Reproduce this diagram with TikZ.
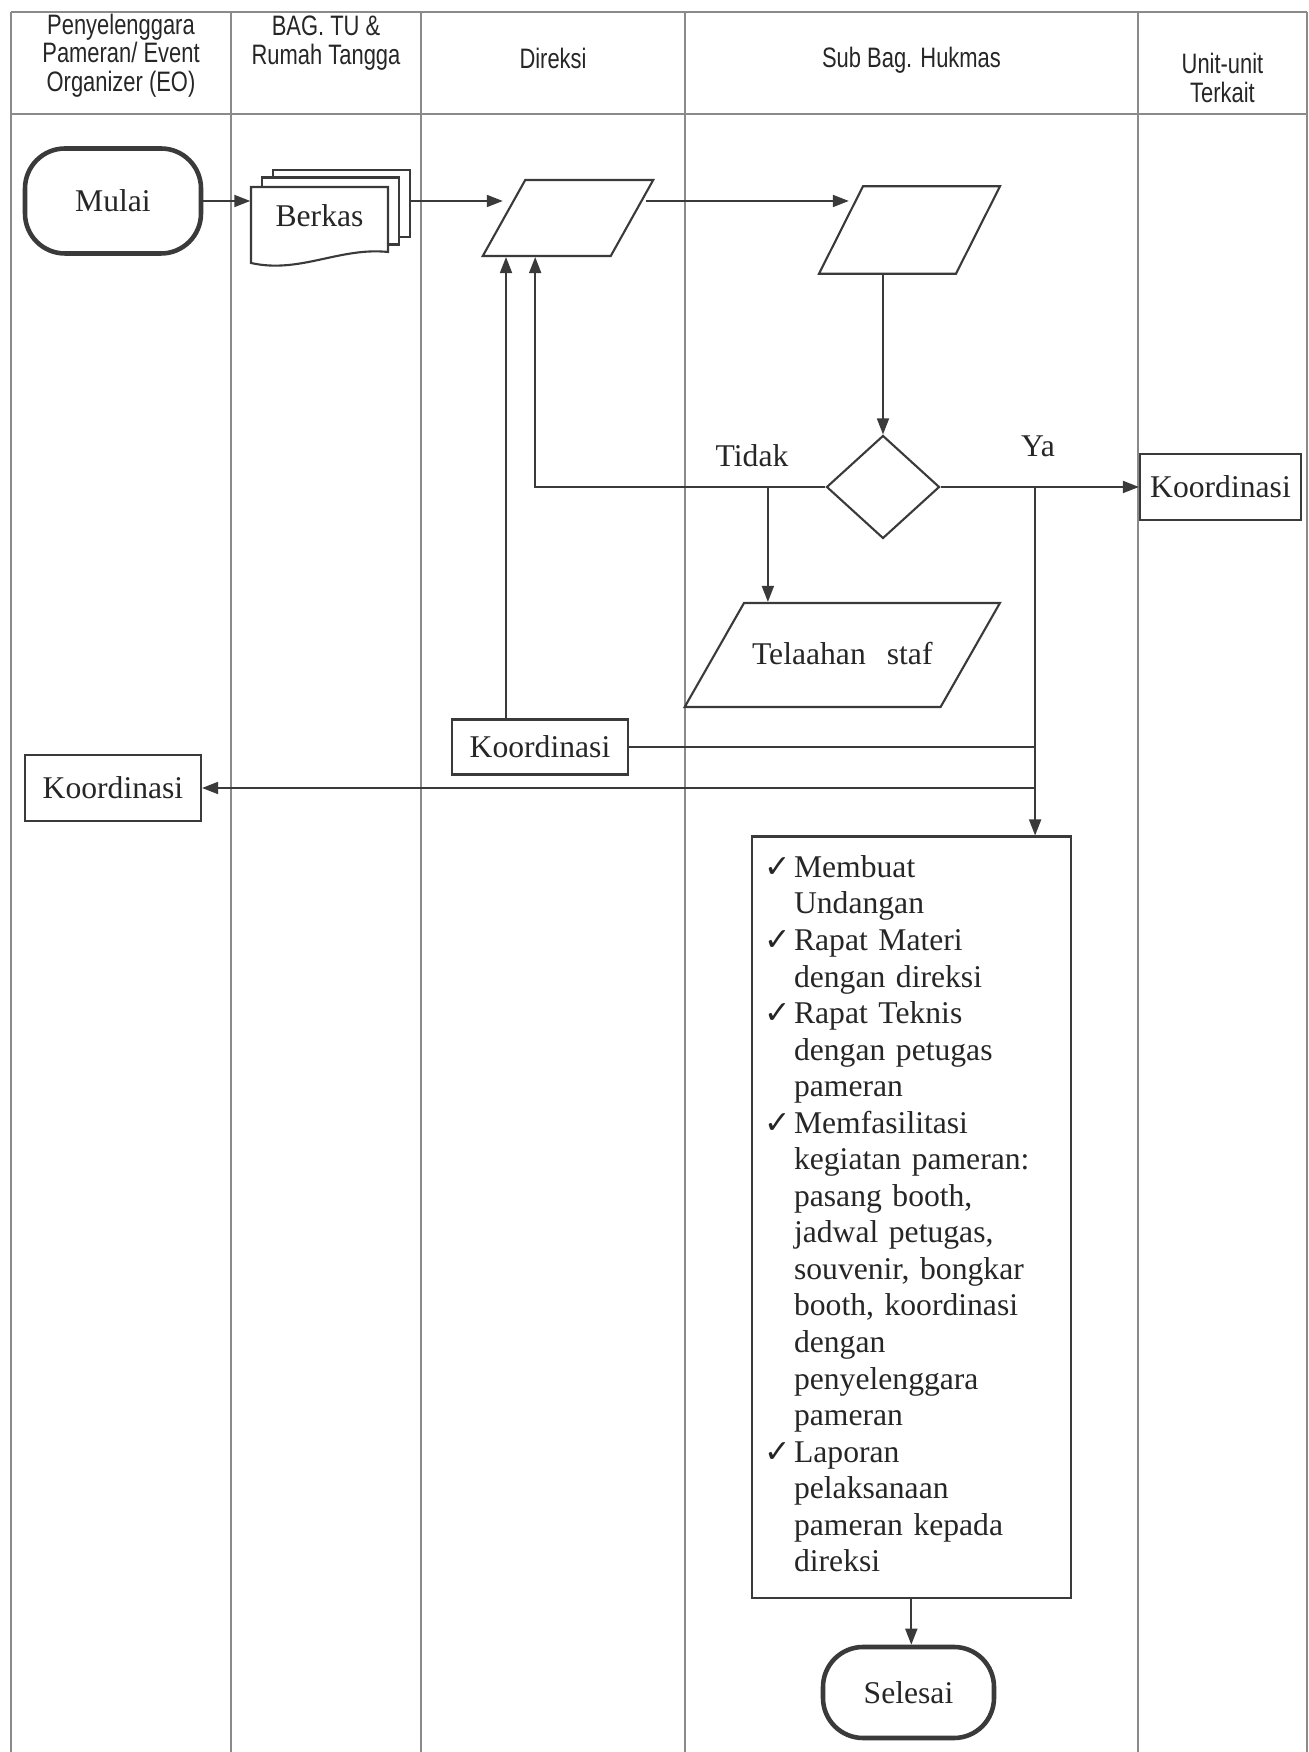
\documentclass[tikz,border=0pt]{standalone}
\usepackage{fontspec}
\setmainfont{Liberation Serif}
\newfontfamily\headfont[FakeStretch=0.78]{Liberation Sans}
\newfontfamily\symfont{DejaVu Sans}
\usetikzlibrary{shapes.geometric, calc, arrows.meta}
\definecolor{garis}{HTML}{8A8A8A}
\definecolor{tinta}{HTML}{3A3A3A}
\newcommand{\cek}{{\symfont\fontsize{9}{10}\selectfont ✓}}

\begin{document}
\begin{tikzpicture}[arr/.style={->, >={Triangle[length=1.6mm, width=1.2mm]}, draw=tinta, line width=0.5pt}, font=\fontsize{9}{10.4}\selectfont, text=black!85]
        \tikzset{kotak/.style={rectangle, draw=tinta, line width=0.6pt, minimum width=1.76cm, minimum height=0.66cm, inner sep=0pt}}
        \tikzset{jajar/.style={trapezium, draw=tinta, line width=0.6pt, inner sep=0pt}}
        \tikzset{ujung/.style={rectangle, rounded corners=0.4cm, draw=tinta, line width=1.3pt, inner sep=0pt}}
        \tikzset{judul/.style={font=\headfont\fontsize{8}{8.1}\selectfont, align=center}}
        \useasboundingbox (0, 0) rectangle (13.09, 17.52);

        % tabel
        \draw[garis, line width=0.4pt] (0.11, 17.40) -- (13.07, 17.40);
        \draw[garis, line width=0.4pt] (0.11, 16.38) -- (13.07, 16.38);
        \foreach \x in {0.11, 2.31, 4.21, 6.85, 11.38, 13.07}
            \draw[garis, line width=0.4pt] (\x, 17.40) -- (\x, 0);

        \node[judul] (h1) at (1.21, 16.965) {Penyelenggara\\Pameran/ Event\\Organizer (EO)};
        \node[judul] (h2) at (3.26, 17.09) {BAG. TU \&\\Rumah Tangga};
        \node[judul] (h3) at (5.53, 16.94) {Direksi};
        \node[judul] (h4) at (9.115, 16.92) {Sub Bag. Hukmas};
        \node[judul] (h5) at (12.225, 16.74) {Unit-unit\\Terkait};

        \node[ujung, minimum width=1.76cm, minimum height=1.05cm] (mulai) at (1.13, 15.51) {Mulai};

        % berkas
        \coordinate (bk) at (3.195, 15.36);
        \node[kotak, fill=white, minimum width=1.37cm, minimum height=0.67cm] (hal3) at (3.415, 15.485) {};
        \node[kotak, fill=white, minimum width=1.37cm, minimum height=0.67cm] (hal2) at (3.305, 15.41) {};
        \draw[draw=tinta, line width=0.6pt, fill=white] ($(bk)+(-0.685,-0.47)$) -- ($(bk)+(-0.685,0.29)$) -- ($(bk)+(0.685,0.29)$) -- ($(bk)+(0.685,-0.36)$)
            .. controls ($(bk)+(0.2,-0.31)$) and ($(bk)+(-0.2,-0.58)$) .. ($(bk)+(-0.685,-0.47)$) -- cycle;
        \node[inner sep=0pt, minimum width=1.37cm, minimum height=0.6cm] (berkas) at (bk) {Berkas};

        \node[jajar, trapezium left angle=60.8, trapezium right angle=119.2, text width=0.855cm, text height=0.76cm, text depth=0pt] (p1) at (5.68, 15.34) {};
        \node[jajar, trapezium left angle=63.3, trapezium right angle=116.7, text width=0.93cm, text height=0.875cm, text depth=0pt] (p2) at (9.095, 15.22) {};
        \node[diamond, draw=tinta, line width=0.6pt, inner sep=0pt, minimum width=1.13cm, minimum height=1.03cm] (dia) at (8.83, 12.65) {};
        \node[jajar, trapezium left angle=60.3, trapezium right angle=119.7, text width=1.966cm, align=center, text height=0.62cm, text depth=0.42cm] (p3) at (8.423, 10.97) {Telaahan\ \ staf};

        \node[kotak, minimum width=1.61cm] (koordU) at (12.205, 12.65) {Koordinasi};
        \node[kotak, minimum height=0.55cm] (koordD) at (5.40, 10.05) {Koordinasi};
        \node[kotak] (koordL) at (1.13, 9.64) {Koordinasi};

        \node[kotak, anchor=north west, text width=2.935cm, align=left, inner xsep=0.13cm, minimum height=7.615cm] (list) at (7.505, 9.165) {%
            \begin{tabular}{@{}l@{\hspace{0.3mm}}l@{}}
                \cek & Membuat\\
                     & Undangan\\
                \cek & Rapat Materi\\
                     & dengan direksi\\
                \cek & Rapat Teknis\\
                     & dengan petugas\\
                     & pameran\\
                \cek & Memfasilitasi\\
                     & kegiatan pameran:\\
                     & pasang booth,\\
                     & jadwal petugas,\\
                     & souvenir, bongkar\\
                     & booth, koordinasi\\
                     & dengan\\
                     & penyelenggara\\
                     & pameran\\
                \cek & Laporan\\
                     & pelaksanaan\\
                     & pameran kepada\\
                     & direksi
            \end{tabular}};

        \node[ujung, minimum width=1.71cm, minimum height=0.91cm] (selesai) at (9.085, 0.595) {Selesai};

        \node (tidak) at (7.52, 12.96) {Tidak};
        \node (ya) at (10.38, 13.06) {Ya};

        % alur
        \draw[arr] (mulai.east) -- (mulai.east -| berkas.west);
        \draw[arr] (mulai.east -| hal3.east) -- (mulai.east -| p1.left side);
        \draw[arr] ($(mulai.east -| p1.right side)+(0.13,0)$) -- ($(mulai.east -| p2.left side)+(0.09,0)$);
        \draw[arr] (p2.bottom side -| dia.north) -- (dia.north);
        \draw[arr] (dia.west) -| ($(p1.bottom side)+(-0.11,0)$);
        \coordinate (naik) at ($(koordD.north)+(-0.34,0)$);
        \draw[arr] (naik) -- (naik |- p1.bottom side);
        \coordinate (tp) at ($(p3.top left corner)+(0.245,0)$);
        \draw[arr] (tp |- dia.west) -- (tp);
        \draw[arr] (dia.east) -- (koordU.west);
        \coordinate (cab) at ($(list.north east)+(-0.37,0)$);
        \draw[arr] (cab |- dia.east) -- (cab);
        \draw[draw=tinta, line width=0.5pt] (koordD.east) -- (koordD.east -| cab);
        \draw[arr] (koordL.east -| cab) -- (koordL.east);
        \draw[arr] (list.south) -- (list.south |- selesai.north);
\end{tikzpicture}
\end{document}
